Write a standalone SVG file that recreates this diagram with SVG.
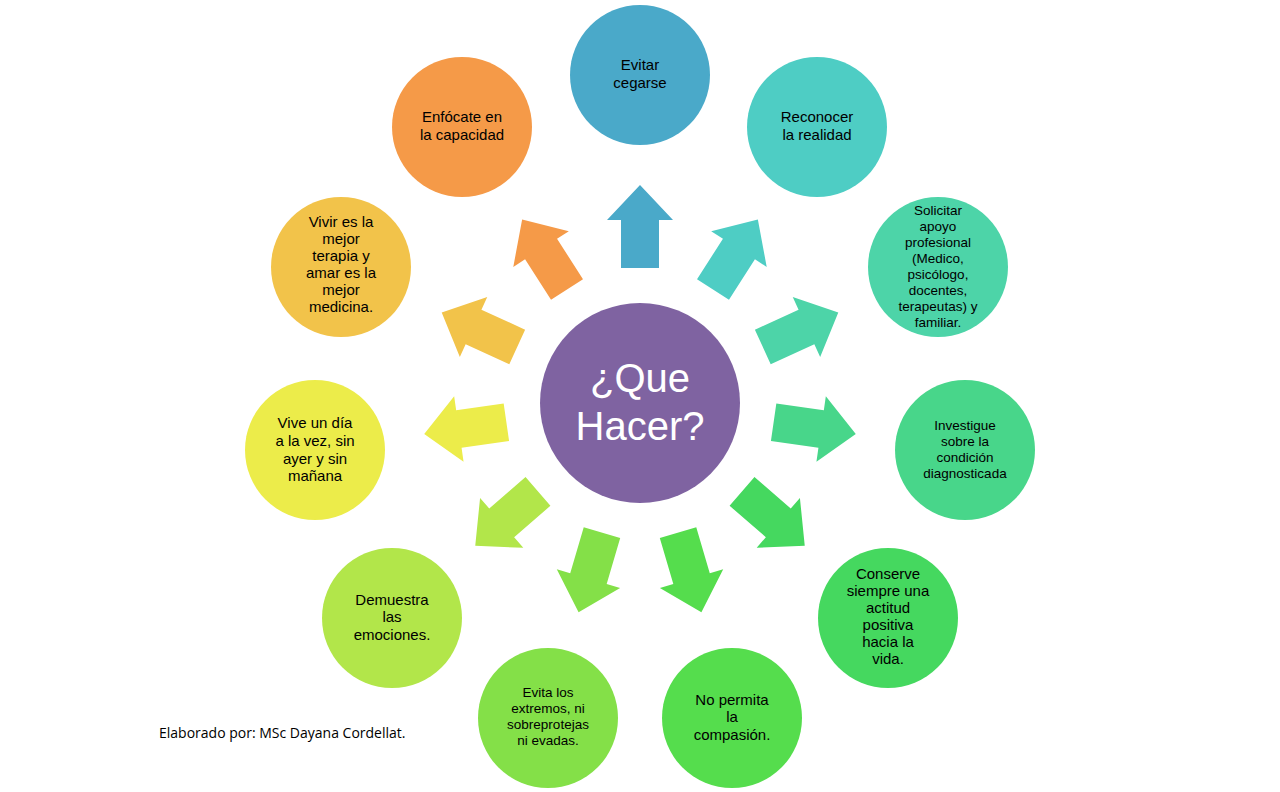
<svg xmlns="http://www.w3.org/2000/svg" width="1280" height="792" viewBox="0 0 1280 792">
<style>
.t{font-family:"Liberation Sans",Arial,sans-serif;font-size:15px;fill:#000;text-anchor:middle}
.s{font-size:13.5px}
.c{font-family:"Liberation Sans",Arial,sans-serif;font-size:40px;fill:#fff;text-anchor:middle}
.f{font-family:"Open Sans","Liberation Sans",sans-serif;font-size:14px;fill:#000}
</style>
<defs>
<path id="ar" d="M135,-19 H183 V-33 L218,0 L183,33 V19 H135 Z"/>
</defs>
<rect width="1280" height="792" fill="#fff"/>
<g id="connectors">
<use href="#ar" fill="#4aa9c9" transform="translate(640 403) rotate(-90)"/>
<use href="#ar" fill="#4ecdc4" transform="translate(640 403) rotate(-57.27)"/>
<use href="#ar" fill="#4dd4a8" transform="translate(640 403) rotate(-24.55)"/>
<use href="#ar" fill="#48d68a" transform="translate(640 403) rotate(8.18)"/>
<use href="#ar" fill="#45d85f" transform="translate(640 403) rotate(40.91)"/>
<use href="#ar" fill="#55dd4d" transform="translate(640 403) rotate(73.64)"/>
<use href="#ar" fill="#84e048" transform="translate(640 403) rotate(106.36)"/>
<use href="#ar" fill="#b2e64a" transform="translate(640 403) rotate(139.09)"/>
<use href="#ar" fill="#ecec4a" transform="translate(640 403) rotate(171.82)"/>
<use href="#ar" fill="#f2c34a" transform="translate(640 403) rotate(204.55)"/>
<use href="#ar" fill="#f59a48" transform="translate(640 403) rotate(237.27)"/>
</g>
<g id="center"><circle cx="640" cy="403" r="100" fill="#7f63a1"/><text class="c" x="640" y="392">¿Que</text><text class="c" x="640" y="440">Hacer?</text></g>
<g id="n1"><circle cx="640" cy="75" r="70" fill="#4aa9c9"/><text class="t" x="640" y="70">Evitar</text><text class="t" x="640" y="88">cegarse</text></g>
<g id="n2"><circle cx="817" cy="127" r="70" fill="#4ecdc4"/><text class="t" x="817" y="122">Reconocer</text><text class="t" x="817" y="140">la realidad</text></g>
<g id="n3"><circle cx="938" cy="267" r="70" fill="#4dd4a8"/><g class="t s"><text class="t s" x="938" y="215">Solicitar</text><text class="t s" x="938" y="231">apoyo</text><text class="t s" x="938" y="247">profesional</text><text class="t s" x="938" y="263">(Medico,</text><text class="t s" x="938" y="279">psicólogo,</text><text class="t s" x="938" y="295">docentes,</text><text class="t s" x="938" y="311">terapeutas) y</text><text class="t s" x="938" y="327">familiar.</text></g></g>
<g id="n4"><circle cx="965" cy="450" r="70" fill="#48d68a"/><text class="t s" x="965" y="430">Investigue</text><text class="t s" x="965" y="446">sobre la</text><text class="t s" x="965" y="462">condición</text><text class="t s" x="965" y="478">diagnosticada</text></g>
<g id="n5"><circle cx="888" cy="618" r="70" fill="#45d85f"/><text class="t" x="888" y="579">Conserve</text><text class="t" x="888" y="596">siempre una</text><text class="t" x="888" y="613">actitud</text><text class="t" x="888" y="630">positiva</text><text class="t" x="888" y="647">hacia la</text><text class="t" x="888" y="664">vida.</text></g>
<g id="n6"><circle cx="732" cy="718" r="70" fill="#55dd4d"/><text class="t" x="732" y="705">No permita</text><text class="t" x="732" y="722">la</text><text class="t" x="732" y="740">compasión.</text></g>
<g id="n7"><circle cx="548" cy="718" r="70" fill="#84e048"/><text class="t s" x="548" y="697">Evita los</text><text class="t s" x="548" y="713">extremos, ni</text><text class="t s" x="548" y="729">sobreprotejas</text><text class="t s" x="548" y="745">ni evadas.</text></g>
<g id="n8"><circle cx="392" cy="618" r="70" fill="#b2e64a"/><text class="t" x="392" y="605">Demuestra</text><text class="t" x="392" y="622">las</text><text class="t" x="392" y="640">emociones.</text></g>
<g id="n9"><circle cx="315" cy="450" r="70" fill="#ecec4a"/><text class="t" x="315" y="428">Vive un día</text><text class="t" x="315" y="446">a la vez, sin</text><text class="t" x="315" y="464">ayer y sin</text><text class="t" x="315" y="481">mañana</text></g>
<g id="n10"><circle cx="341" cy="267" r="70" fill="#f2c34a"/><text class="t" x="341" y="227">Vivir es la</text><text class="t" x="341" y="244">mejor</text><text class="t" x="341" y="261">terapia y</text><text class="t" x="341" y="278">amar es la</text><text class="t" x="341" y="295">mejor</text><text class="t" x="341" y="312">medicina.</text></g>
<g id="n11"><circle cx="462" cy="127" r="70" fill="#f59a48"/><text class="t" x="462" y="122">Enfócate  en</text><text class="t" x="462" y="140">la capacidad</text></g>
<text class="f" x="159" y="738">Elaborado por: MSc Dayana Cordellat.</text>
</svg>
